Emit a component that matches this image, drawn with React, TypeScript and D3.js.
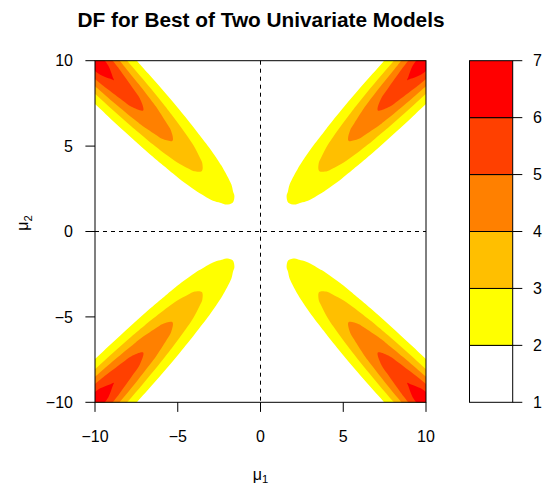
import React, { useMemo } from "react";
import * as d3 from "d3";

const TITLE = "DF for Best of Two Univariate Models";
const xTicks = [-10, -5, 0, 5, 10];
const yTicks = [-10, -5, 0, 5, 10];
const levels = [1, 2, 3, 4, 5, 6, 7];
const bandColors = ["#FFFFFF", "#FFFF00", "#FFBF00", "#FF8000", "#FF4000", "#FF0000"];

// DF surface, tabulated along the ridge: c = (|mu1|+|mu2|)/2 (rows),
// d = |mu1|-|mu2| (columns, symmetric in d)
const ridgeC = [0, 1, 2, 3, 4, 5, 6, 7, 8, 9, 10, 11, 12, 13];
const offsetD = [0, 0.5, 1, 1.5, 2, 2.5, 3, 3.5, 4, 4.5, 5];
const dfTable = [
  [1.637, 1.637, 1.643, 1.664, 1.71, 1.784, 1.885, 2.004, 2.135, 2.272, 2.411],
  [1.71, 1.681, 1.607, 1.515, 1.436, 1.388, 1.376, 1.392, 1.426, 1.471, 1.52],
  [2.135, 2.067, 1.886, 1.652, 1.426, 1.25, 1.135, 1.071, 1.041, 1.03, 1.028],
  [2.693, 2.59, 2.318, 1.964, 1.623, 1.355, 1.179, 1.079, 1.031, 1.011, 1.003],
  [3.257, 3.12, 2.758, 2.286, 1.83, 1.473, 1.238, 1.106, 1.041, 1.014, 1.004],
  [3.821, 3.65, 3.197, 2.607, 2.038, 1.591, 1.297, 1.132, 1.052, 1.018, 1.005],
  [4.385, 4.18, 3.636, 2.929, 2.245, 1.71, 1.357, 1.158, 1.062, 1.021, 1.007],
  [4.949, 4.71, 4.076, 3.25, 2.453, 1.828, 1.416, 1.185, 1.072, 1.025, 1.008],
  [5.514, 5.24, 4.515, 3.572, 2.66, 1.946, 1.476, 1.211, 1.083, 1.029, 1.009],
  [6.078, 5.77, 4.955, 3.893, 2.868, 2.064, 1.535, 1.237, 1.093, 1.032, 1.01],
  [6.642, 6.3, 5.394, 4.215, 3.076, 2.183, 1.595, 1.264, 1.103, 1.036, 1.011],
  [7.206, 6.83, 5.833, 4.536, 3.283, 2.301, 1.654, 1.29, 1.114, 1.039, 1.012],
  [7.77, 7.36, 6.273, 4.858, 3.491, 2.419, 1.714, 1.317, 1.124, 1.043, 1.013],
  [8.334, 7.89, 6.712, 5.179, 3.698, 2.537, 1.773, 1.343, 1.134, 1.046, 1.014],
];

const W = 545;
const H = 484;
const P = { left: 95, right: 426, top: 60.7, bottom: 402.3 };
const K = { left: 469.5, right: 512.7 };
const FONT = "'Liberation Sans', Arial, Helvetica, sans-serif";
const FS = 16;
const TICK = 9.6;

const quadrants: [number, number][] = [
  [1, 1],
  [-1, 1],
  [-1, -1],
  [1, -1],
];

export default function App() {
  const x = d3.scaleLinear().domain([-10, 10]).range([P.left, P.right]);
  const y = d3.scaleLinear().domain([-10, 10]).range([P.bottom, P.top]);
  const k = d3.scaleLinear().domain([levels[0], levels[levels.length - 1]]).range([P.bottom, P.top]);

  const layers = useMemo(() => {
    const half = offsetD.length - 1;
    const nCols = 2 * half + 1;
    const nRows = ridgeC.length;
    const values: number[] = [];
    for (let r = 0; r < nRows; r++)
      for (let c = 0; c < nCols; c++) values.push(dfTable[r][Math.abs(c - half)]);
    const dOf = d3.scaleLinear().domain([0, nCols - 1]).range([-offsetD[half], offsetD[half]]);
    const cOf = d3.scaleLinear().domain([0, nRows - 1]).range([ridgeC[0], ridgeC[nRows - 1]]);
    const thresholds = levels.slice(1, -1);
    const cs = d3.contours().size([nCols, nRows]).thresholds(thresholds)(values);
    const line = d3.line<[number, number]>().curve(d3.curveCatmullRomClosed.alpha(0.5));
    return quadrants.map(([sx, sy]) =>
      cs.map((cont) => {
        let dstr = "";
        cont.coordinates.forEach((poly) => {
          poly.forEach((ring) => {
            let pts = ring.map(([u, v]) => {
              const dd = dOf(u - 0.5);
              const cc = cOf(v - 0.5);
              const m1 = cc + dd / 2;
              const m2 = cc - dd / 2;
              return [x(sx * m1), y(sy * m2)] as [number, number];
            });
            if (pts.length > 1) {
              const a = pts[0];
              const b = pts[pts.length - 1];
              if (Math.abs(a[0] - b[0]) < 1e-9 && Math.abs(a[1] - b[1]) < 1e-9) pts = pts.slice(0, -1);
            }
            dstr += line(pts) || "";
          });
        });
        return { value: cont.value, d: dstr };
      })
    );
  }, []);

  const x0 = x(0);
  const y0 = y(0);

  return (
    <svg
      width={W}
      height={H}
      style={{ position: "absolute", left: 0, top: 0, background: "#fff" }}
      fontFamily={FONT}
    >
      <defs>
        {quadrants.map(([sx, sy], i) => (
          <clipPath id={`q${i}`} key={i}>
            <rect
              x={Math.min(x0, x(sx * 10))}
              y={Math.min(y0, y(sy * 10))}
              width={Math.abs(x(sx * 10) - x0)}
              height={Math.abs(y(sy * 10) - y0)}
            />
          </clipPath>
        ))}
      </defs>
      <rect x={0} y={0} width={W} height={H} fill="#fff" />
      {layers.map((layer, qi) => (
        <g key={qi} clipPath={`url(#q${qi})`}>
          {layer.map((l) => (
            <path
              key={l.value}
              d={l.d}
              fill={bandColors[levels.indexOf(l.value)]}
              fillRule="evenodd"
              stroke="none"
            />
          ))}
        </g>
      ))}
      {/* reference lines */}
      <line x1={x0} x2={x0} y1={P.top} y2={P.bottom} stroke="#000" strokeWidth={1} strokeDasharray="4,4" />
      <line x1={P.left} x2={P.right} y1={y0} y2={y0} stroke="#000" strokeWidth={1} strokeDasharray="4,4" />
      {/* frame */}
      <rect x={P.left} y={P.top} width={P.right - P.left} height={P.bottom - P.top} fill="none" stroke="#000" strokeWidth={1} />
      {/* x axis */}
      {xTicks.map((t) => (
        <g key={`x${t}`}>
          <line x1={x(t)} x2={x(t)} y1={P.bottom} y2={P.bottom + TICK} stroke="#000" />
          <text x={x(t)} y={441.7} fontSize={FS} textAnchor="middle">
            {t < 0 ? `\u2212${-t}` : `${t}`}
          </text>
        </g>
      ))}
      {/* y axis */}
      {yTicks.map((t) => (
        <g key={`y${t}`}>
          <line x1={P.left - TICK} x2={P.left} y1={y(t)} y2={y(t)} stroke="#000" />
          <text x={73} y={y(t) + 5.7} fontSize={FS} textAnchor="end">
            {t < 0 ? `\u2212${-t}` : `${t}`}
          </text>
        </g>
      ))}
      {/* axis titles */}
      <text x={260.5} y={479.5} fontSize={FS} textAnchor="middle">
        μ<tspan fontSize={FS * 0.7} dy={3.5}>1</tspan>
      </text>
      <text transform={`translate(28.3,223) rotate(-90)`} fontSize={FS} textAnchor="middle">
        μ<tspan fontSize={FS * 0.7} dy={4}>2</tspan>
      </text>
      {/* title */}
      <text x={261} y={27} fontSize={20.8} fontWeight="bold" textAnchor="middle">
        {TITLE}
      </text>
      {/* key */}
      {levels.slice(0, -1).map((lv, i) => (
        <rect
          key={`k${lv}`}
          x={K.left}
          y={k(levels[i + 1])}
          width={K.right - K.left}
          height={k(lv) - k(levels[i + 1])}
          fill={bandColors[i]}
          stroke="#000"
          strokeWidth={1}
        />
      ))}
      {levels.map((lv) => (
        <g key={`kt${lv}`}>
          <line x1={K.right} x2={K.right + TICK} y1={k(lv)} y2={k(lv)} stroke="#000" />
          <text x={533} y={k(lv) + 5.7} fontSize={FS} textAnchor="start">
            {lv}
          </text>
        </g>
      ))}
    </svg>
  );
}
